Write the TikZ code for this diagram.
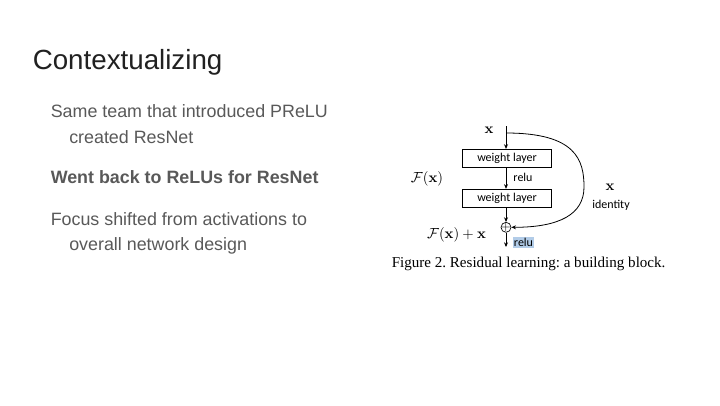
\documentclass[tikz,border=0pt]{standalone}
\usepackage[no-math]{fontspec}
\setmainfont{Liberation Sans}
\newfontfamily\calib{Carlito}
\newfontfamily\tnr{Liberation Serif}
\usetikzlibrary{arrows.meta}
\definecolor{bodygray}{RGB}{89,89,89}
\definecolor{titlecol}{RGB}{33,33,33}
\definecolor{hilite}{RGB}{178,204,232}
\frenchspacing
\tikzset{
  titletxt/.style={anchor=base west, inner sep=0pt, text=titlecol, font=\fontsize{20.8}{24}\selectfont},
  bodytxt/.style={anchor=base west, inner sep=0pt, text=bodygray, font=\fontsize{13.4}{15}\selectfont},
  layerbox/.style={draw, line width=0.6pt, minimum width=66.5pt, minimum height=13.5pt, inner sep=0pt, font=\calib\fontsize{9}{10}\selectfont},
  smalltxt/.style={inner sep=0pt, font=\calib\fontsize{9}{10}\selectfont},
  mathtxt/.style={inner sep=0pt, font=\fontsize{11}{12}\selectfont},
  arr/.style={line width=0.6pt, -{Stealth[length=3.5pt,width=3pt]}},
  plusc/.style={draw, circle, line width=0.5pt, minimum size=7.5pt, inner sep=0pt}
}
\begin{document}
\begin{tikzpicture}[x=0.75pt,y=-0.75pt]
\useasboundingbox[fill=white] (0,0) rectangle (720,405);
% left text
\node[titletxt] (title) at (32.5,69.5) {Contextualizing};
\node[bodytxt] (l1) at (50.5,117.3) {Same team that introduced PReLU};
\node[bodytxt] (l2) at (69,143.3) {created ResNet};
\node[bodytxt, font=\bfseries\fontsize{13.4}{15}\selectfont] (l3) at (50.5,183.3) {Went back to ReLUs for ResNet};
\node[bodytxt] (l4) at (50.5,225) {Focus shifted from activations to};
\node[bodytxt] (l5) at (69,250) {overall network design};
% diagram
\coordinate (in) at (506,126);
\coordinate (split) at (506,133);
\node[mathtxt] (xin) at (489,130.5) {$\mathbf{x}$};
\node[layerbox] (w1) at (507,158.3) {weight layer};
\node[layerbox] (w2) at (507,198.2) {weight layer};
\node[plusc] (plus) at (506,227.3) {};
\node[font=\fontsize{9}{10}\selectfont, inner sep=0pt] (plussym) at (plus.center) {$+$};
\coordinate (out) at (506,247);
\draw[arr] (in) -- (in |- w1.north);
\draw[arr] (w1.south -| in) -- (in |- w2.north);
\draw[arr] (w2.south -| in) -- (plus.north);
\draw[arr] (plus.south) -- (out);
\draw[arr] (split) .. controls (576,133) and (584,160) .. (584,187) .. controls (584,214) and (560,227.3) .. (plus.east);
\node[smalltxt] (relu1) at (523,177.5) {relu};
\node[smalltxt, fill=hilite, inner xsep=1pt, inner ysep=1pt] (relu2) at (523.5,242.5) {relu};
\node[mathtxt] (fx) at (427,178.5) {$\mathcal{F}(\mathbf{x})$};
\node[mathtxt] (fxx) at (456.5,235) {$\mathcal{F}(\mathbf{x})+\mathbf{x}$};
\node[mathtxt] (xid) at (610,187.5) {$\mathbf{x}$};
\node[smalltxt] (ident) at (611,205) {identity};
\node[inner sep=0pt, anchor=base west, font=\tnr\fontsize{11.3}{12}\selectfont] (cap) at (391.5,267) {Figure 2. Residual learning: a building block.};
\end{tikzpicture}
\end{document}
